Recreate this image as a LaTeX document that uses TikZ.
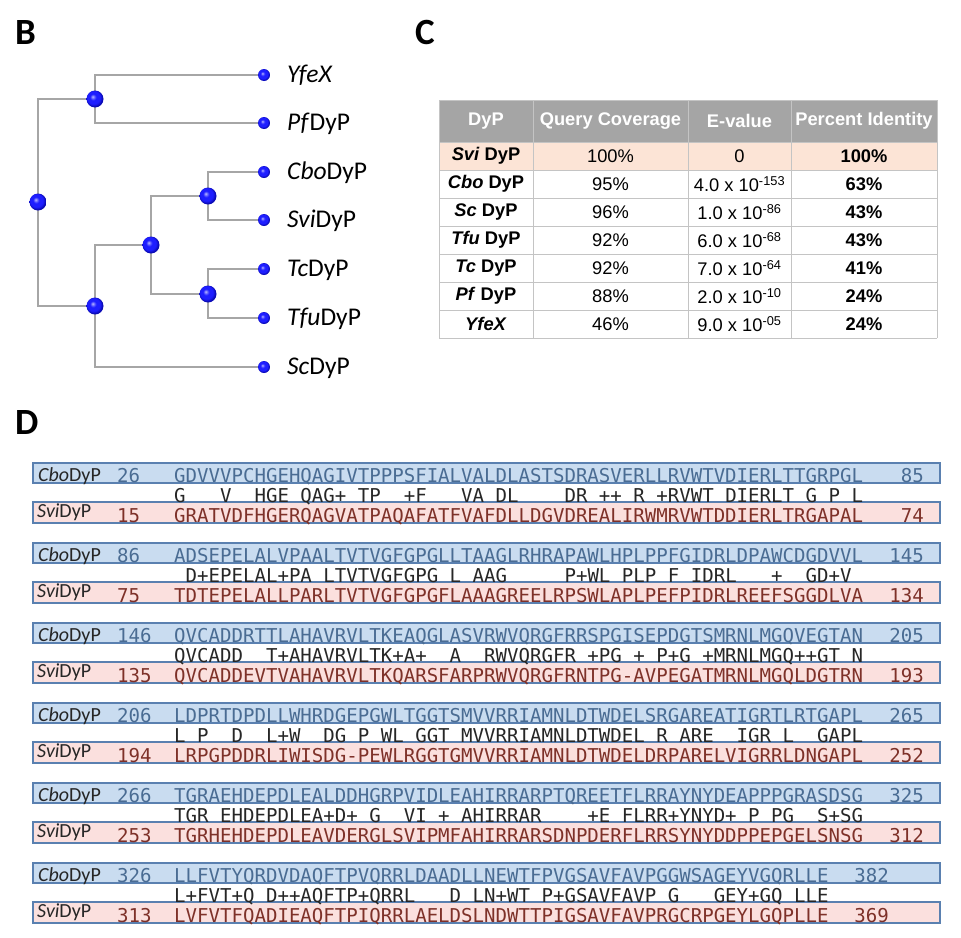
\documentclass[tikz,border=0pt]{standalone}
\usepackage{fontspec}
\usepackage{tikz}
\newfontfamily\calfont{Carlito}
\newfontfamily\arialfont{Liberation Sans}
\newfontfamily\seqfont{DejaVu Sans Mono}
\definecolor{Branch}{HTML}{A6A6A6}
\definecolor{DotBlue}{HTML}{1E1EFF}
\definecolor{DotLight}{HTML}{B8B8FF}
\definecolor{DotRim}{HTML}{0A0AB4}
\definecolor{HeadGray}{HTML}{A5A5A5}
\definecolor{GridGray}{HTML}{C4C4C4}
\definecolor{SviPeach}{HTML}{FCE4D6}
\definecolor{CboFill}{HTML}{C9DCF0}
\definecolor{SviFill}{HTML}{FBE0DE}
\definecolor{BoxEdge}{HTML}{5A80B0}
\definecolor{CboInk}{HTML}{4A6C93}
\definecolor{SviInk}{HTML}{7E3129}
\definecolor{MidInk}{HTML}{262626}
\pgfdeclareradialshading{bluedot}{\pgfqpoint{-7bp}{7bp}}{color(0bp)=(DotLight); color(9bp)=(DotBlue); color(19bp)=(DotBlue); color(25bp)=(DotRim); color(50bp)=(DotRim)}
\newcommand{\AlnBlock}[9]{% index, Cbo start, Cbo seq, Cbo end, match line, Svi start, Svi seq, Svi end, x of end numbers
\pgfmathsetmacro{\BlkTop}{383+80*#1}
\draw[cbobox] (33,\BlkTop) rectangle (940,\BlkTop+20);
\draw[svibox] (33,\BlkTop+39) rectangle (940,\BlkTop+60);
\node[dyplabel] (cbolab#1) at (38,\BlkTop+18) {\textit{Cbo}DyP};
\node[cboseq] (cbonum#1) at (117,\BlkTop+19) {#2};
\node[cboseq] (cboseq#1) at (174,\BlkTop+19) {#3};
\node[cboseq,anchor=base east] (cboend#1) at (#9,\BlkTop+19) {#4};
\node[midseq] (mid#1) at (174,\BlkTop+39) {#5};
\node[dyplabel] (svilab#1) at (37,\BlkTop+54) {\textit{Svi}DyP};
\node[sviseq] (svinum#1) at (117,\BlkTop+59) {#6};
\node[sviseq] (sviseq#1) at (174,\BlkTop+59) {#7};
\node[sviseq,anchor=base east] (sviend#1) at (#9,\BlkTop+59) {#8};
}

\begin{document}
\begin{tikzpicture}[x=1pt,y=-1pt,
  panel/.style={anchor=base west,inner sep=0,font=\calfont\bfseries\fontsize{37}{40}\selectfont},
  branch/.style={Branch,line width=2.5pt},
  bigdot/.style={circle,inner sep=0,minimum size=17pt,shading=bluedot},
  leafdot/.style={circle,inner sep=0,minimum size=12pt,shading=bluedot},
  leaflabel/.style={anchor=base west,inner sep=0,xshift=23pt,yshift=-7.5pt,font=\calfont\fontsize{25.5}{28}\selectfont},
  grid/.style={GridGray,line width=1pt},
  headtext/.style={inner sep=0,text=white,font=\arialfont\bfseries\fontsize{18.3}{21}\selectfont},
  celltext/.style={inner sep=0,font=\arialfont\fontsize{18.3}{21}\selectfont},
  cbobox/.style={draw=BoxEdge,fill=CboFill,line width=1.5pt},
  svibox/.style={draw=BoxEdge,fill=SviFill,line width=1.5pt},
  dyplabel/.style={anchor=base west,inner sep=0,text=black!85,font=\calfont\fontsize{20}{22}\selectfont},
  cboseq/.style={anchor=base west,inner sep=0,text=CboInk,font=\seqfont\fontsize{19.07}{21}\selectfont},
  midseq/.style={anchor=base west,inner sep=0,text=MidInk,font=\seqfont\fontsize{19.07}{21}\selectfont},
  sviseq/.style={anchor=base west,inner sep=0,text=SviInk,font=\seqfont\fontsize{19.07}{21}\selectfont}]
\useasboundingbox (0,0) rectangle (961,937);

\node[panel] (labB) at (15,44) {B};
\node[panel] (labC) at (415,44) {C};
\node[panel] (labD) at (15,434) {D};

% tree
\coordinate (root) at (38,202);
\coordinate (pfy) at (95,99);
\coordinate (rest) at (95,306);
\coordinate (cts) at (151,245);
\coordinate (cbsv) at (208,196);
\coordinate (tctf) at (208,294);
\coordinate (yfex) at (264,75);
\coordinate (pf) at (264,123);
\coordinate (cbo) at (264,172);
\coordinate (svi) at (264,220);
\coordinate (tc) at (264,269);
\coordinate (tfu) at (264,318);
\coordinate (sc) at (264,367);
\foreach \a/\b in {root/pfy,root/rest,pfy/yfex,pfy/pf,rest/cts,rest/sc,cts/cbsv,cts/tctf,cbsv/cbo,cbsv/svi,tctf/tc,tctf/tfu}
  \draw[branch] (\a) |- (\b);
\foreach \n in {root,pfy,rest,cts,cbsv,tctf}
  \node[bigdot] (\n-dot) at (\n) {};
\foreach \n/\t in {yfex/\textit{YfeX},pf/\textit{Pf}DyP,cbo/\textit{Cbo}DyP,svi/\textit{Svi}DyP,tc/\textit{Tc}DyP,tfu/\textit{Tfu}DyP,sc/\textit{Sc}DyP}{
  \node[leafdot] (\n-dot) at (\n) {};
  \node[leaflabel] (\n-lab) at (\n) {\t};
}

% table
\fill[HeadGray] (439,100) rectangle (937,142);
\fill[SviPeach] (439,142) rectangle (937,170);
\foreach \y in {100,142,170,198,226,254,282,310,338}
  \draw[grid] (439,\y) -- (937,\y);
\foreach \x in {439,533,688,791,937}
  \draw[grid] (\x,100) -- (\x,338);
\foreach \x/\t [count=\i] in {486/DyP,610.5/Query Coverage,739.5/E-value,864/Percent Identity}
  \node[headtext] (head\i) at (\x,121) {\t};
\foreach \n/\q/\e/\p [count=\i] in {
  {\textit{Svi} DyP}/100\%/0/100\%,
  {\textit{Cbo} DyP}/95\%/4.0 x 10\textsuperscript{-153}/63\%,
  {\textit{Sc} DyP}/96\%/1.0 x 10\textsuperscript{-86}/43\%,
  {\textit{Tfu} DyP}/92\%/6.0 x 10\textsuperscript{-68}/43\%,
  {\textit{Tc} DyP}/92\%/7.0 x 10\textsuperscript{-64}/41\%,
  {\textit{Pf} DyP}/88\%/2.0 x 10\textsuperscript{-10}/24\%,
  {\textit{YfeX}}/46\%/9.0 x 10\textsuperscript{-05}/24\%}{
  \node[celltext,font=\arialfont\bfseries\fontsize{18.3}{21}\selectfont] (dyp\i) at (486,128+28*\i) {\n};
  \node[celltext] (cov\i) at (610.5,128+28*\i) {\q};
  \node[celltext] (eval\i) at (739.5,128+28*\i) {\e};
  \node[celltext,font=\arialfont\bfseries\fontsize{18.3}{21}\selectfont] (ident\i) at (864,128+28*\i) {\p};
}

% alignment
\AlnBlock{1}{26}{GDVVVPCHGEHQAGIVTPPPSFIALVALDLASTSDRASVERLLRVWTVDIERLTTGRPGL}{85}
  {G~~~V~~HGE~QAG+~TP~~+F~~~VA~DL~~~~DR~++~R~+RVWT~DIERLT~G~P~L}
  {15}{GRATVDFHGERQAGVATPAQAFATFVAFDLLDGVDREALIRWMRVWTDDIERLTRGAPAL}{74}{924}
\AlnBlock{2}{86}{ADSEPELALVPAALTVTVGFGPGLLTAAGLRHRAPAWLHPLPPFGIDRLDPAWCDGDVVL}{145}
  {~D+EPELAL+PA~LTVTVGFGPG~L~AAG~~~~~P+WL~PLP~F~IDRL~~~+~~GD+V}
  {75}{TDTEPELALLPARLTVTVGFGPGFLAAAGREELRPSWLAPLPEFPIDRLREEFSGGDLVA}{134}{924}
\AlnBlock{3}{146}{QVCADDRTTLAHAVRVLTKEAQGLASVRWVQRGFRRSPGISEPDGTSMRNLMGQVEGTAN}{205}
  {QVCADD~~T+AHAVRVLTK+A+~~A~~RWVQRGFR~+PG~+~P+G~+MRNLMGQ++GT~N}
  {135}{QVCADDEVTVAHAVRVLTKQARSFARPRWVQRGFRNTPG-AVPEGATMRNLMGQLDGTRN}{193}{924}
\AlnBlock{4}{206}{LDPRTDPDLLWHRDGEPGWLTGGTSMVVRRIAMNLDTWDELSRGAREATIGRTLRTGAPL}{265}
  {L~P~~D~~L+W~~DG~P~WL~GGT~MVVRRIAMNLDTWDEL~R~ARE~~IGR~L~~GAPL}
  {194}{LRPGPDDRLIWISDG-PEWLRGGTGMVVRRIAMNLDTWDELDRPARELVIGRRLDNGAPL}{252}{924}
\AlnBlock{5}{266}{TGRAEHDEPDLEALDDHGRPVIDLEAHIRRARPTQREETFLRRAYNYDEAPPPGRASDSG}{325}
  {TGR~EHDEPDLEA+D+~G~~VI~+~AHIRRAR~~~~+E~FLRR+YNYD+~P~PG~~S+SG}
  {253}{TGRHEHDEPDLEAVDERGLSVIPMFAHIRRARSDNPDERFLRRSYNYDDPPEPGELSNSG}{312}{924}
\AlnBlock{6}{326}{LLFVTYQRDVDAQFTPVQRRLDAADLLNEWTFPVGSAVFAVPGGWSAGEYVGQRLLE}{382}
  {L+FVT+Q~D++AQFTP+QRRL~~~D~LN+WT~P+GSAVFAVP~G~~~GEY+GQ~LLE}
  {313}{LVFVTFQADIEAQFTPIQRRLAELDSLNDWTTPIGSAVFAVPRGCRPGEYLGQPLLE}{369}{889}
\end{tikzpicture}
\end{document}
